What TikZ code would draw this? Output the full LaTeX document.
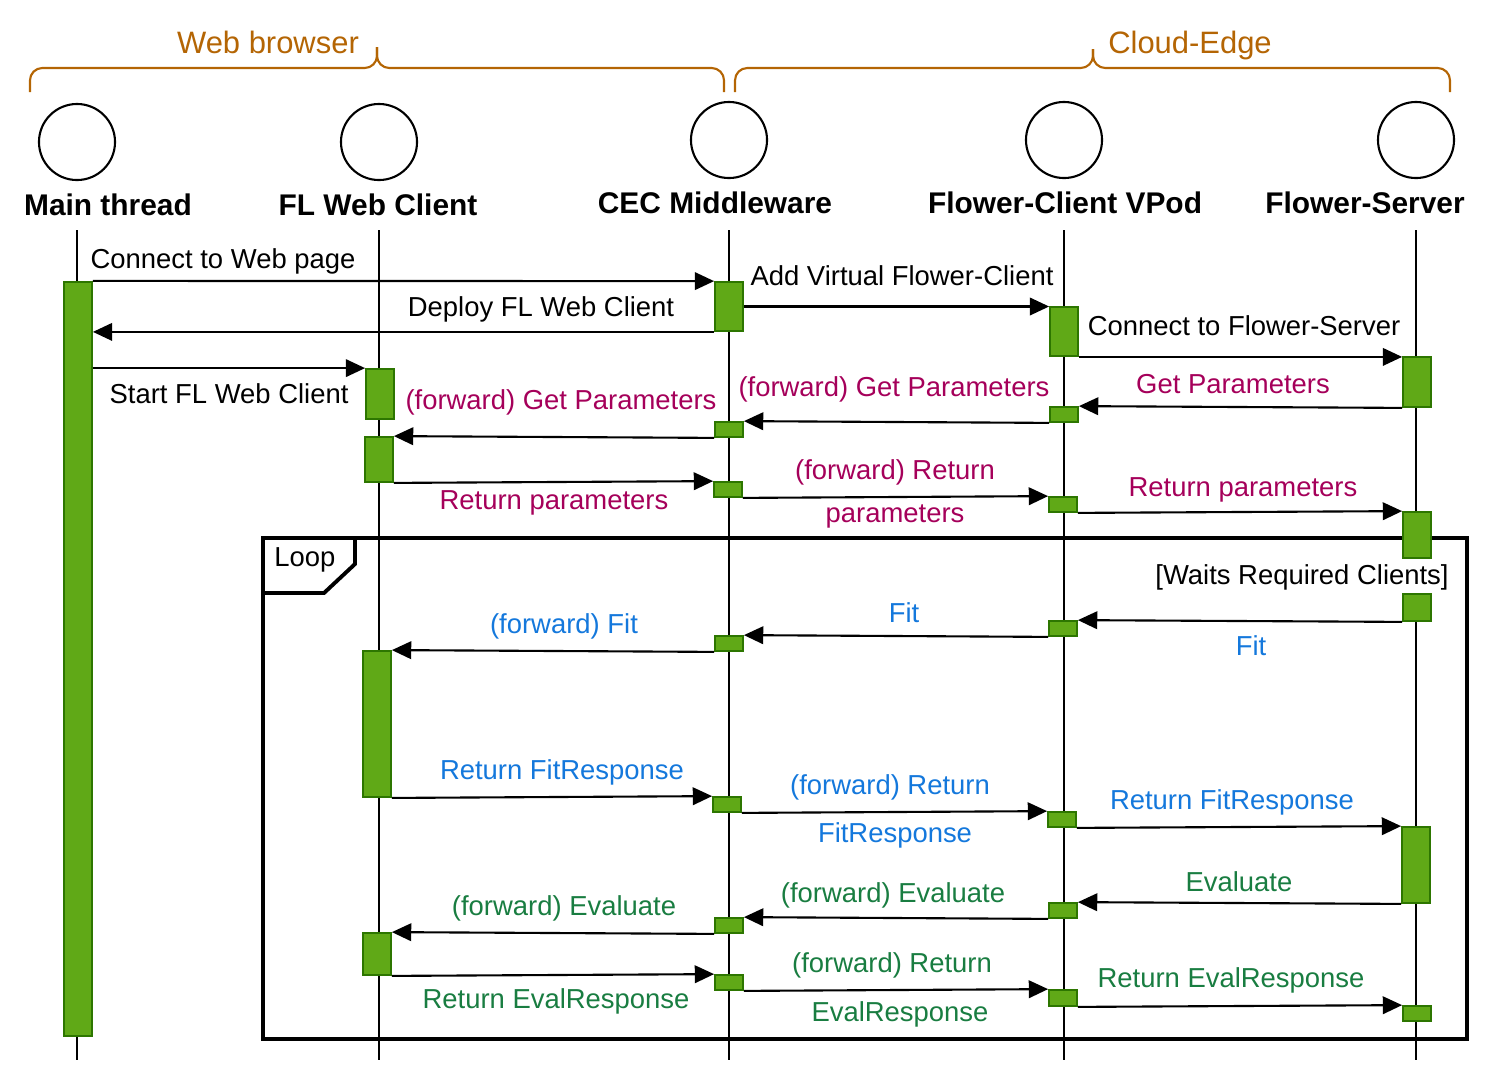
\documentclass[tikz,border=0pt]{standalone}
\usepackage{fontspec}
\setmainfont{Liberation Sans}
\usetikzlibrary{arrows.meta,positioning}
\definecolor{bracecol}{HTML}{B46504}
\definecolor{barfill}{HTML}{60A917}
\definecolor{barline}{HTML}{2D7600}
\definecolor{getcol}{RGB}{165,0,90}
\definecolor{fitcol}{RGB}{20,120,220}
\definecolor{evalcol}{RGB}{25,125,65}

\begin{document}
\begin{tikzpicture}[x=0.01cm, y=-0.01cm,
  actor/.style = {draw, circle, line width=0.6pt, minimum size=0.76cm, inner sep=0pt},
  headtext/.style = {font=\fontsize{8.5}{10}\selectfont\bfseries, inner sep=0pt},
  lifeline/.style = {line width=0.45pt},
  act/.style = {draw=barline, fill=barfill, line width=0.5pt, minimum width=0.28cm, inner sep=0pt},
  msg/.style = {line width=0.6pt, -{Triangle[length=5.5pt, width=5pt]}},
  lbl/.style = {font=\fontsize{7.8}{9}\selectfont, inner sep=0pt},
  grp/.style = {draw=bracecol, line width=0.6pt, rounded corners=3.5pt},
  grplbl/.style = {text=bracecol, font=\fontsize{8.8}{10}\selectfont, inner sep=0pt}]
\useasboundingbox (0,0) rectangle (1503,1078);

% participants
\node[actor] (mt) at (77,142) {};
\node[headtext] (mtt) at (108,205) {Main thread};
\node[actor] (wc) at (379,142) {};
\node[headtext] (wct) at (378,205) {FL Web Client};
\node[actor] (cec) at (729,140) {};
\node[headtext] (cect) at (715,203) {CEC Middleware};
\node[actor] (fc) at (1064,140) {};
\node[headtext] (fct) at (1065,203) {Flower-Client VPod};
\node[actor] (fs) at (1416,140) {};
\node[headtext] (fst) at (1365,203) {Flower-Server};

\coordinate (top) at (0,230);
\coordinate (bot) at (0,1060);
\foreach \p in {mt,wc,cec,fc,fs}
  \draw[lifeline] (\p |- top) -- (\p |- bot);

% groups
\draw[grp] (30,92) -- (30,68) -- (377,68) -- (377,47);
\draw[grp] (724,92) -- (724,68) -- (377,68) -- (377,47);
\node[grplbl] (wb) at (268,42) {Web browser};
\draw[grp] (735,92) -- (735,68) -- (1093,68) -- (1093,49);
\draw[grp] (1450,92) -- (1450,68) -- (1093,68) -- (1093,49);
\node[grplbl] (ce) at (1190,45) {Cloud-Edge};

% loop frame
\draw[line width=1.1pt] (263,538) rectangle (1467,1039);
\draw[line width=1.1pt] (263,593) -- (324,593) -- (355,564) -- (355,538);
\node[lbl] (loop) at (305,560) {Loop};
\node[lbl, fill=white, inner ysep=4pt] (wait) at (1302,577) {[Waits Required Clients]};

% activations
\node[act, minimum height=7.54cm] (mtb) at (78,659) {};
\node[act, minimum height=0.49cm] (c1) at (729,306.5) {};
\node[act, minimum height=0.15cm] (c2) at (729,429.5) {};
\node[act, minimum height=0.15cm] (c3) at (728,489.5) {};
\node[act, minimum height=0.15cm] (c4) at (729,643.5) {};
\node[act, minimum height=0.15cm] (c5) at (727,804.5) {};
\node[act, minimum height=0.15cm] (c6) at (729,925.5) {};
\node[act, minimum height=0.15cm] (c7) at (729,982.5) {};
\node[act, minimum height=0.49cm] (f1) at (1064,331.5) {};
\node[act, minimum height=0.15cm] (f2) at (1064,414.5) {};
\node[act, minimum height=0.15cm] (f3) at (1063,504.5) {};
\node[act, minimum height=0.15cm] (f4) at (1063,628.5) {};
\node[act, minimum height=0.15cm] (f5) at (1062,819.5) {};
\node[act, minimum height=0.15cm] (f6) at (1063,910.5) {};
\node[act, minimum height=0.16cm] (f7) at (1063,998) {};
\node[act, minimum height=0.50cm] (s1) at (1417,382) {};
\node[act, minimum height=0.46cm] (s2) at (1417,535) {};
\node[act, minimum height=0.27cm] (s3) at (1417,607.5) {};
\node[act, minimum height=0.76cm] (s4) at (1416,865) {};
\node[act, minimum height=0.15cm] (s5) at (1417,1013.5) {};
\node[act, minimum height=0.50cm] (w1) at (380,394) {};
\node[act, minimum height=0.45cm] (w2) at (379,459.5) {};
\node[act, minimum height=1.46cm] (w3) at (377,724) {};
\node[act, minimum height=0.42cm] (w4) at (377,954) {};

% set up
\draw[msg] (mtb.north east) -- (c1.north west);
\node[lbl] (l1) at (223,261) {Connect to Web page};
\draw[msg] (c1.south west) -- (c1.south west -| mtb.east);
\node[lbl] (l2) at (541,309) {Deploy FL Web Client};
\draw[msg] (c1.east) -- (c1.east -| f1.west);
\node[lbl] (l3) at (902,276) {Add Virtual Flower-Client};
\draw[msg] (f1.south east) -- (f1.south east -| s1.west);
\node[lbl] (l4) at (1244,326) {Connect to Flower-Server};
\draw[msg] (w1.north west -| mtb.east) -- (w1.north west);
\node[lbl] (l5) at (229,394) {Start FL Web Client};

% get parameters
\begin{scope}[nodes={text=getcol}]
\draw[msg] (s1.south west) -- (f2.north east);
\node[lbl] (l6) at (1233,384) {Get Parameters};
\draw[msg] (f2.south west) -- (c2.north east);
\node[lbl] (l7) at (894,389) {(forward) Get Parameters};
\draw[msg] (c2.south west) -- (w2.north east);
\node[lbl] (l8) at (561,402) {(forward) Get Parameters};
\draw[msg] (w2.south east) -- (c3.north west);
\node[lbl] (l9) at (554,503) {Return parameters};
\draw[msg] (c3.south east) -- (f3.north west);
\node[lbl] (l10) at (895,472) {(forward) Return};
\node[lbl] (l10b) at (895,516) {parameters};
\draw[msg] (f3.south east) -- (s2.north west);
\node[lbl] (l11) at (1243,490) {Return parameters};
\end{scope}

% fit
\begin{scope}[nodes={text=fitcol}]
\draw[msg] (s3.south west) -- (f4.north east);
\node[lbl] (l12) at (1251,646) {Fit};
\draw[msg] (f4.south west) -- (c4.north east);
\node[lbl] (l13) at (904,613) {Fit};
\draw[msg] (c4.south west) -- (w3.north east);
\node[lbl] (l14) at (564,626) {(forward) Fit};
\draw[msg] (w3.south east) -- (c5.north west);
\node[lbl] (l15) at (562,772) {Return FitResponse};
\draw[msg] (c5.south east) -- (f5.north west);
\node[lbl] (l16) at (890,787) {(forward) Return};
\node[lbl] (l16b) at (895,835) {FitResponse};
\draw[msg] (f5.south east) -- (s4.north west);
\node[lbl] (l17) at (1232,802) {Return FitResponse};
\end{scope}

% evaluate
\begin{scope}[nodes={text=evalcol}]
\draw[msg] (s4.south west) -- (f6.north east);
\node[lbl] (l18) at (1239,882) {Evaluate};
\draw[msg] (f6.south west) -- (c6.north east);
\node[lbl] (l19) at (893,895) {(forward) Evaluate};
\draw[msg] (c6.south west) -- (w4.north east);
\node[lbl] (l20) at (564,908) {(forward) Evaluate};
\draw[msg] (w4.south east) -- (c7.north west);
\node[lbl] (l21) at (556,1001) {Return EvalResponse};
\draw[msg] (c7.south east) -- (f7.north west);
\node[lbl] (l22) at (892,965) {(forward) Return};
\node[lbl] (l22b) at (900,1014) {EvalResponse};
\draw[msg] (f7.south east) -- (s5.north west);
\node[lbl] (l23) at (1231,980) {Return EvalResponse};
\end{scope}
\end{tikzpicture}
\end{document}
